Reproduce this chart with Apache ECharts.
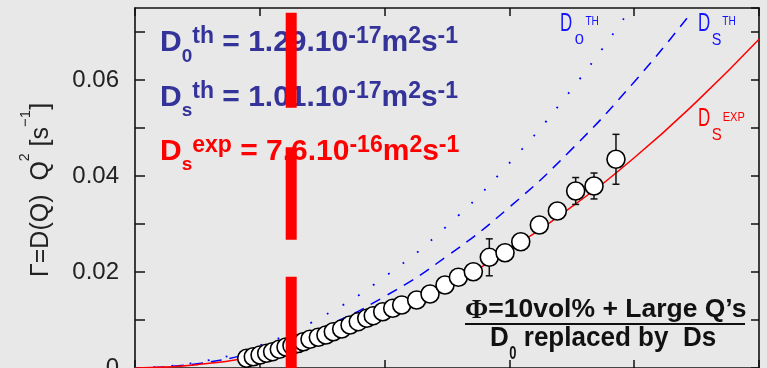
<!DOCTYPE html>
<html><head><meta charset="utf-8">
<script src="https://cdn.jsdelivr.net/npm/echarts@6/dist/echarts.min.js"></script>
<style>html,body{margin:0;padding:0;background:#e8e8e8}#c{width:767px;height:368px}</style>
</head><body><div id="c"></div>
<script>
// ---- data ----
const qExp = [0.895,0.948,1.002,1.055,1.103,1.156,1.21,1.258,1.306,1.349,1.402,1.469,1.53,1.589,1.656,1.723,1.789,1.857,1.909,1.985,2.065,2.137,2.257,2.364,2.484,2.591,2.711,2.839,2.965,3.091,3.24,3.384,3.531,3.678,3.854];
const gammaExp = [0.00202,0.00235,0.00271,0.00306,0.0034,0.0039,0.00438,0.00469,0.0051,0.00548,0.00598,0.0064,0.00688,0.00756,0.00813,0.00896,0.00965,0.01035,0.0109,0.01173,0.01244,0.01313,0.01417,0.01542,0.01729,0.0189,0.02006,0.02306,0.02402,0.02631,0.02979,0.03271,0.03688,0.03792,0.04348];
const errIndex = [27, 32, 33, 34];
const errSize = [0.00385, 0.0028, 0.0027, 0.0052];

const qDsExp = [0,0.5,1,1.5,2,2.5,3,3.5,4,4.5,5];
const gammaDsExp = [0,0.0007,0.0027,0.0062,0.011,0.0171,0.0247,0.0336,0.0438,0.0555,0.0685];
const qDsTh = [0,0.5,1,1.5,2,2.5,3,3.5,4,4.43];
const gammaDsTh = [0,0.0009,0.0037,0.0084,0.0149,0.0233,0.0335,0.0456,0.0596,0.0731];
const qD0Th = [0,0.5,1,1.5,2,2.5,3,3.5,3.93];
const gammaD0Th = [0,0.0012,0.0047,0.0107,0.019,0.0296,0.0427,0.0581,0.0733];

const barQ = 1.2516;
const barLow = [0.0542, 0.0267, 0];
const barHigh = [0.0740, 0.0460, 0.0190];

const yTickLabels = ['0', '0.02', '0.04', '0.06'];

// ---- helpers ----
const zip = (a, b) => a.map((v, i) => [v, b[i]]);
const AX = '#111';
const FONT = "'Liberation Sans', Arial, sans-serif";
const SERIF = "'Liberation Serif', 'Times New Roman', serif";
const mctx = document.createElement('canvas').getContext('2d');
function tw(t, size, weight, family) {
  mctx.font = (weight || 'normal') + ' ' + size + 'px ' + (family || FONT);
  return mctx.measureText(t).width;
}
// parts: [text, fontSize, dv (offset of glyph centre from line centre, +down), weight, family, scaleX, gapBefore]
function seq(x0, yc, parts, color, rotated) {
  let u = 0;
  return parts.map(p => {
    const [t, size, dv, weight, family, sx, gap] = p;
    const s = sx || 1;
    u += gap || 0;
    const el = {type: 'text', z: 5, scaleX: s,
      style: {text: t, x: 0, y: 0, fill: color, fontSize: size, fontWeight: weight || 'normal',
               fontFamily: family || FONT, align: 'left', verticalAlign: 'middle'}};
    if (rotated) { el.x = x0 + dv; el.y = yc - u; el.rotation = Math.PI / 2; }
    else { el.x = x0 + u; el.y = yc + dv; }
    u += tw(t, size, weight, family) * s;
    return el;
  });
}
const BL = '#1414ff', RD = '#ff0000', EQB = '#333399', TX = '#222';

function eqLine(yc, subTxt, supTxt, value, expo, color) {
  return seq(160, yc, [
    ['D', 30, 0, 'bold'], [subTxt, 19, 13.5, 'bold'], [supTxt, 23, -6, 'bold'],
    [' = ' + value, 30, 0, 'bold'], [expo, 23, -6, 'bold'], ['m', 30, 0, 'bold'],
    ['2', 23, -6, 'bold'], ['s', 30, 0, 'bold'], ['-1', 23, -6, 'bold']
  ], color);
}

const graphics = [].concat(
  eqLine(43, '0', 'th', '1.29.10', '-17', EQB),
  eqLine(97.5, 's', 'th', '1.01.10', '-17', EQB),
  eqLine(151.5, 's', 'exp', '7.6.10', '-16', RD),
  // curve labels
  seq(560, 23.5, [['D', 26, 0, 'normal', FONT, 0.65], ['0', 15, 16.5, 'normal', FONT, 1.1, 2.5], ['TH', 13, -2, 'normal', FONT, 0.78, 1.5]], BL),
  seq(698, 23.5, [['D', 26, 0, 'normal', FONT, 0.65], ['S', 16, 17, 'normal', FONT, 0.9, 1.5], ['TH', 13, -2, 'normal', FONT, 0.78, 1]], BL),
  seq(698, 119, [['D', 26, 0, 'normal', FONT, 0.65], ['S', 17, 16.5, 'normal', FONT, 0.88, 1.5], ['EXP', 13, -1.5, 'normal', FONT, 0.85, 1]], RD),
  // bottom-right annotation
  seq(465, 310.5, [['\u03A6', 28, 0, 'bold', SERIF], ['=10vol% + Large Q\u2019s', 25, 0, 'bold', FONT, 1.06]], '#111'),
  [{type: 'line', z: 5, shape: {x1: 465, y1: 324, x2: 745, y2: 324}, style: {stroke: '#111', lineWidth: 2}}],
  seq(490, 338, [['D', 28, 0, 'bold', FONT, 0.93], ['0', 18, 16, 'bold', FONT, 0.72, 0.5], [' replaced by  Ds', 28, 0, 'bold', FONT, 0.93]], '#111'),
  // y-axis title (rotated)
  seq(41, 277, [['\u0393=D(Q)  Q', 25, 0], ['2', 14, -15.5], [' [s', 25, 0], ['\u22121', 15, -15.5], [']', 25, 0]], TX, true)
);

// ---- chart ----
const chart = echarts.init(document.getElementById('c'), null, {renderer: 'canvas'});
const axisCommon = {
  type: 'value',
  axisLine: {show: true, onZero: false, lineStyle: {color: AX, width: 1.6}},
  splitLine: {show: false},
  axisLabel: {show: false}
};
const tick = (len) => ({show: true, inside: true, length: len, lineStyle: {color: AX, width: 1.5}});

const option = {
  backgroundColor: '#e8e8e8',
  animation: false,
  grid: {left: 135, right: 8, top: 8, bottom: 0, containLabel: false, outerBoundsMode: 'none'},
  xAxis: [
    Object.assign({}, axisCommon, {min: 0, max: 5, interval: 1, position: 'bottom', axisTick: tick(8)}),
    Object.assign({}, axisCommon, {min: 0, max: 5, interval: 1, position: 'top', axisTick: tick(8)})
  ],
  yAxis: [
    Object.assign({}, axisCommon, {min: 0, max: 0.075, interval: 0.01, position: 'left', axisTick: tick(10),
      axisLabel: {show: true, margin: 16, color: TX, fontSize: 24, fontFamily: FONT,
        showMaxLabel: false, hideOverlap: false,
        formatter: v => {
          const k = Math.round(v * 100);
          if (Math.abs(v * 100 - k) > 1e-6 || k % 2) return '';
          return yTickLabels[k / 2] || '';
        }}
    }),
    Object.assign({}, axisCommon, {min: 0, max: 0.075, interval: 0.01, position: 'right', axisTick: tick(8)})
  ],
  graphic: graphics,
  series: [
    {type: 'line', name: 'D0 th', data: zip(qD0Th, gammaD0Th), smooth: true, showSymbol: false, z: 2,
      lineStyle: {color: '#0000ff', width: 1.8, type: [1.8, 16.5]}},
    {type: 'line', name: 'Ds th', data: zip(qDsTh, gammaDsTh), smooth: true, showSymbol: false, z: 2,
      lineStyle: {color: '#0000ff', width: 1.5, type: [11, 8]}},
    {type: 'line', name: 'Ds exp', data: zip(qDsExp, gammaDsExp), smooth: true, showSymbol: false, z: 2,
      lineStyle: {color: '#ff0000', width: 1.5}},
    {type: 'custom', name: 'err', z: 3,
      data: errIndex.map((k, i) => [qExp[k], gammaExp[k], errSize[i]]),
      renderItem: (params, api) => {
        const x = api.value(0), y = api.value(1), e = api.value(2);
        const top = api.coord([x, y + e]), bot = api.coord([x, y - e]);
        const st = {stroke: '#111', lineWidth: 1.5};
        return {type: 'group', children: [
          {type: 'line', shape: {x1: top[0], y1: top[1], x2: bot[0], y2: bot[1]}, style: st},
          {type: 'line', shape: {x1: top[0] - 3.5, y1: top[1], x2: top[0] + 3.5, y2: top[1]}, style: st},
          {type: 'line', shape: {x1: bot[0] - 3.5, y1: bot[1], x2: bot[0] + 3.5, y2: bot[1]}, style: st}
        ]};
      }},
    {type: 'scatter', name: 'exp', data: zip(qExp, gammaExp), z: 4, symbol: 'circle', symbolSize: 18,
      itemStyle: {color: '#ffffff', borderColor: '#000', borderWidth: 1.6, opacity: 1}},
    {type: 'custom', name: 'bar', z: 10,
      data: barLow.map((lo, i) => [barQ, lo, barHigh[i]]),
      renderItem: (params, api) => {
        const p1 = api.coord([api.value(0), api.value(2)]);
        const p0 = api.coord([api.value(0), api.value(1)]);
        return {type: 'rect', shape: {x: p1[0] - 5.5, y: p1[1], width: 11, height: p0[1] - p1[1]},
          style: {fill: '#ff0000'}};
      }}
  ]
};
chart.setOption(option);
</script>
</body></html>
